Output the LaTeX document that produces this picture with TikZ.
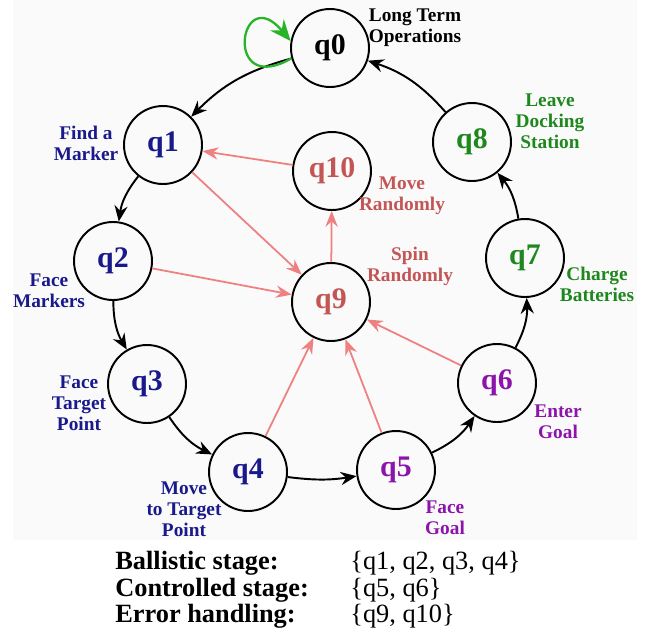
\documentclass[tikz,border=0pt]{standalone}
\usepackage{fontspec}
\setmainfont{Liberation Serif}
\usepackage{xcolor}
\usetikzlibrary{arrows.meta}

\definecolor{ballblue}{RGB}{25,25,140}
\definecolor{ctrlpurple}{RGB}{140,20,170}
\definecolor{dockgreen}{RGB}{30,135,30}
\definecolor{errrose}{RGB}{195,85,85}
\definecolor{errarrow}{RGB}{238,128,128}
\definecolor{loopgreen}{RGB}{40,180,40}

\begin{document}
\begin{tikzpicture}[
  x=0.02cm, y=-0.02cm,
  state/.style = {draw, circle, line width=1.1pt, minimum size=1.56cm,
                  inner sep=0pt, font=\fontsize{17}{20}\selectfont\bfseries},
  lbl/.style   = {align=center, inner sep=0pt,
                  font=\fontsize{11}{12}\selectfont\bfseries},
  arr/.style   = {-{Stealth[length=9pt, width=7.5pt, inset=3pt]},
                  line width=1.1pt, bend right=15},
  rarr/.style  = {-{Stealth[length=9pt, width=7pt, inset=3pt]},
                  line width=1pt, errarrow},
  row/.style   = {anchor=base west, inner sep=0pt,
                  font=\fontsize{15}{15}\selectfont}
]
\useasboundingbox (0,0) rectangle (650,629);
\fill[black!2] (13,0) rectangle (637,540);

%% ---- states ----
\node[state]                    (q0)  at (330,48)  {q0};
\node[state, text=ballblue]     (q1)  at (163,145) {q1};
\node[state, text=ballblue]     (q2)  at (113,261) {q2};
\node[state, text=ballblue]     (q3)  at (147,384) {q3};
\node[state, text=ballblue]     (q4)  at (248,472) {q4};
\node[state, text=ctrlpurple]   (q5)  at (396,470) {q5};
\node[state, text=ctrlpurple]   (q6)  at (497,383) {q6};
\node[state, text=dockgreen]    (q7)  at (525,258) {q7};
\node[state, text=dockgreen]    (q8)  at (472,142) {q8};
\node[state, text=errrose]      (q9)  at (331,302) {q9};
\node[state, text=errrose]      (q10) at (332,171) {q10};

%% ---- labels ----
\node[lbl]                   (l0)  at (415,28)  {Long Term\\Operations};
\node[lbl, text=ballblue]    (l1)  at (86,143)  {Find a\\Marker};
\node[lbl, text=ballblue]    (l2)  at (49,291)  {Face\\Markers};
\node[lbl, text=ballblue]    (l3)  at (79,403)  {Face\\Target\\Point};
\node[lbl, text=ballblue]    (l4)  at (184,509) {Move\\to Target\\Point};
\node[lbl, text=ctrlpurple]  (l5)  at (445,518) {Face\\Goal};
\node[lbl, text=ctrlpurple]  (l6)  at (558,422) {Enter\\Goal};
\node[lbl, text=dockgreen]   (l7)  at (597,284) {Charge\\Batteries};
\node[lbl, text=dockgreen]   (l8)  at (550,121) {Leave\\Docking\\Station};
\node[lbl, text=errrose]     (l9)  at (410,266) {Spin\\Randomly};
\node[lbl, text=errrose]     (l10) at (402,196) {Move\\Randomly};

%% ---- main cycle ----
\draw[arr] (q0) to (q1);
\draw[arr] (q1) to (q2);
\draw[arr] (q2) to (q3);
\draw[arr] (q3) to (q4);
\draw[arr, bend right=8] (q4) to (q5);
\draw[arr] (q5) to (q6);
\draw[arr] (q6) to (q7);
\draw[arr] (q7) to (q8);
\draw[arr] (q8) to (q0);

% self loop on q0
\draw[-{Stealth[length=12pt, width=10pt, inset=4pt]}, loopgreen, line width=1.3pt]
  (q0.195) .. controls +(210:1.6cm) and +(130:1.6cm) .. (q0.170);

%% ---- error handling ----
\draw[rarr] (q10) -- (q1);
\draw[rarr] (q1)  -- (q9);
\draw[rarr] (q2)  -- (q9);
\draw[rarr] (q4)  -- (q9);
\draw[rarr] (q5)  -- (q9);
\draw[rarr] (q6)  -- (q9);
\draw[rarr] (q9)  -- (q10);

%% ---- legend ----
\node[row, font=\fontsize{15}{15}\selectfont\bfseries] (ballkey) at (115,569) {Ballistic stage:};
\node[row, font=\fontsize{15}{15}\selectfont\bfseries] (ctrlkey) at (115,596) {Controlled stage:};
\node[row, font=\fontsize{15}{15}\selectfont\bfseries] (errkey)  at (115,622) {Error handling:};
\node[row] (ballset) at (350,569) {\{q1, q2, q3, q4\}};
\node[row] (ctrlset) at (350,596) {\{q5, q6\}};
\node[row] (errset)  at (350,622) {\{q9, q10\}};
\end{tikzpicture}
\end{document}
